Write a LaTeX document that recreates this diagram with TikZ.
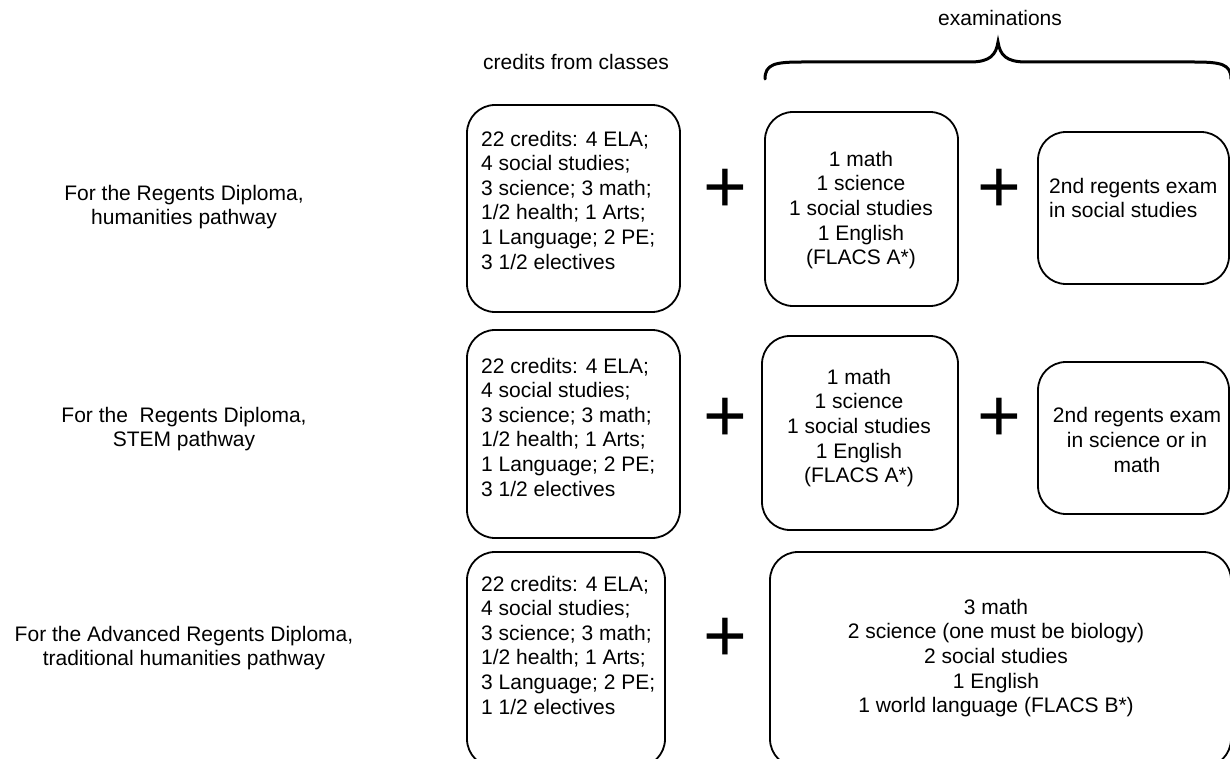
\documentclass[tikz,border=0pt]{standalone}
\usepackage{fontspec}
\setmainfont{Liberation Sans}
\begin{document}
\begin{tikzpicture}[x=1pt,y=-1pt,
  box/.style={draw, line width=1.8pt, rounded corners=28pt, inner sep=0pt},
  txt/.style={font=\fontsize{21}{24.6}\selectfont, inner sep=0pt},
  plussign/.style={font=\fontsize{75}{75}\selectfont, inner sep=0pt},
  bracestyle/.style={line width=3pt, line cap=round},
]
\useasboundingbox (0,0) rectangle (1230,759);
\clip (0,0) rectangle (1230,759);

% headings
\node[txt] (hcred) at (576,62) {credits from classes};
\node[txt] (hexam) at (1000,18) {examinations};
\coordinate (bl) at (765,79);
\coordinate (btip) at (998,42);
\coordinate (br) at (1231,79);
\draw[bracestyle] (bl) .. controls (765,64) and (775,62) .. (802,62) -- (970,62)
  .. controls (990,62) and (996,55) .. (btip)
  .. controls (1000,55) and (1006,62) .. (1026,62) -- (1194,62)
  .. controls (1221,62) and (1231,64) .. (br);

% row labels
\node[txt, align=center] (lab1) at (184,207) {For the Regents Diploma,\\humanities pathway};
\node[txt, align=center] (lab2) at (184,429) {For the\ \ Regents Diploma,\\STEM pathway};
\node[txt, align=center] (lab3) at (184,648) {For the Advanced Regents Diploma,\\traditional humanities pathway};

% row 1
\node[box, minimum width=213pt, minimum height=207pt] (c1) at (573.5,208.5) {};
\node[txt, align=left, anchor=west] (c1t) at (481,200) {22 credits: 4 ELA;\\4 social studies;\\3 science; 3 math;\\1/2 health; 1 Arts;\\1 Language; 2 PE;\\3 1/2 electives};
\node[plussign] (p1a) at (725.5,191) {+};
\node[box, minimum width=193pt, minimum height=194pt] (e1) at (861.5,209) {};
\node[txt, align=center] (e1t) at (861,210) {1 math\\1 science\\1 social studies\\1 English\\(FLACS A*)};
\node[plussign] (p1b) at (999.5,191) {+};
\node[box, minimum width=191pt, minimum height=152pt] (r1) at (1133.5,208) {};
\node[txt, align=left, anchor=west] (r1t) at (1049,198) {2nd regents exam\\in social studies};

% row 2
\node[box, minimum width=213pt, minimum height=208pt] (c2) at (573.5,434) {};
\node[txt, align=left, anchor=west] (c2t) at (481,427) {22 credits: 4 ELA;\\4 social studies;\\3 science; 3 math;\\1/2 health; 1 Arts;\\1 Language; 2 PE;\\3 1/2 electives};
\node[plussign] (p2a) at (725.5,420) {+};
\node[box, minimum width=196pt, minimum height=194pt] (e2) at (860,433) {};
\node[txt, align=center] (e2t) at (859,428) {1 math\\1 science\\1 social studies\\1 English\\(FLACS A*)};
\node[plussign] (p2b) at (999.5,420) {+};
\node[box, minimum width=191pt, minimum height=152pt] (r2) at (1133.5,438) {};
\node[txt, align=center] (r2t) at (1137,440) {2nd regents exam\\in science or in\\math};

% row 3
\node[box, minimum width=198pt, minimum height=215pt] (c3) at (566,659.5) {};
\node[txt, align=left, anchor=west] (c3t) at (481,645) {22 credits: 4 ELA;\\4 social studies;\\3 science; 3 math;\\1/2 health; 1 Arts;\\3 Language; 2 PE;\\1 1/2 electives};
\node[plussign] (p3a) at (725.5,640) {+};
\node[box, minimum width=461pt, minimum height=215pt] (e3) at (1000.5,659.5) {};
\node[txt, align=center] (e3t) at (996,658) {3 math\\2 science (one must be biology)\\2 social studies\\1 English\\1 world language (FLACS B*)};
\end{tikzpicture}
\end{document}
